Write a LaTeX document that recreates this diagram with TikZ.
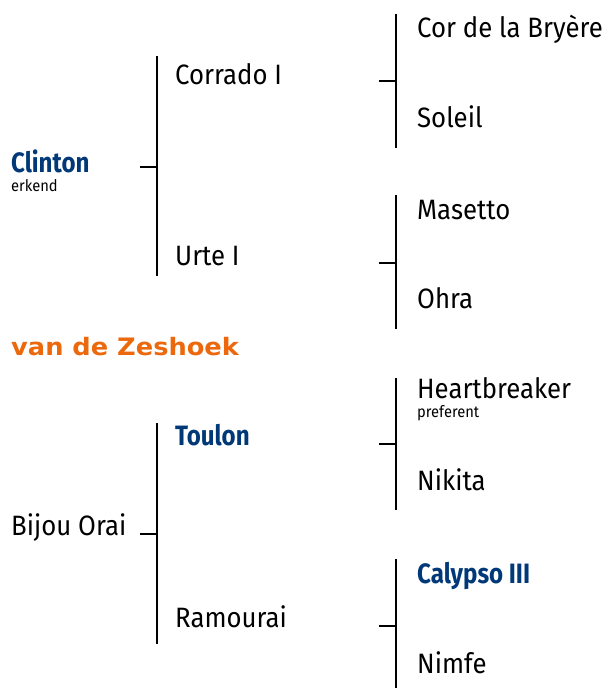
\documentclass[tikz,border=0pt]{standalone}
\usepackage{fontspec}
\setmainfont{Fira Sans}[FakeStretch=0.92]
\newfontfamily\sirefont{Fira Sans}[FakeStretch=0.86]
\newfontfamily\kennelfont{DejaVu Sans}[FakeStretch=1.07]
\usetikzlibrary{positioning}
\definecolor{pedblue}{RGB}{0,56,120}
\definecolor{pedorange}{RGB}{236,104,12}
\tikzset{
every picture/.style={line width=2.4pt, x=1pt, y=-1pt},
%%%%%%%%%%  Node styles
horse/.style={anchor=base west, inner sep=0pt, text depth=0pt,
              font=\fontsize{28}{32}\selectfont},
sire/.style={anchor=base west, inner sep=0pt, text depth=0pt, text=pedblue,
             font=\fontsize{28}{32}\selectfont\sirefont\bfseries},
remark/.style={anchor=base west, inner sep=0pt, text height=9pt,
               font=\fontsize{16}{19}\selectfont},
kennel/.style={anchor=base west, inner sep=0pt, text=pedorange,
               font=\fontsize{24}{28}\selectfont\kennelfont\bfseries},
%%%% line styles
bracket/.style={draw=black, line cap=butt},
}
% name, x of vertical line, top, middle, bottom
\newcommand{\pedbracket}[5]{
  \coordinate (#1-top) at (#2,#3);
  \coordinate (#1-mid) at (#2,#4);
  \coordinate (#1-bot) at (#2,#5);
  \coordinate (#1-tick) at (#2-17,#4);
  \draw[bracket] (#1-top) -- (#1-bot);
  \draw[bracket] (#1-tick) -- (#1-mid);
}

\begin{document}
\begin{tikzpicture}
\useasboundingbox (0,0) rectangle (611,688);
% upper pedigree
\node[sire] (clinton) at (10,172) {Clinton};
\node[remark] (erkend) at (10,191) {erkend};
\node[horse] (corrado) at (174,84) {Corrado I};
\node[horse] (urte) at (174,265) {Urte I};
\node[horse] (cor) at (416,37) {Cor de la Bryère};
\node[horse] (soleil) at (416,127) {Soleil};
\node[horse] (masetto) at (416,219) {Masetto};
\node[horse] (ohra) at (416,308) {Ohra};
\pedbracket{clintonbr}{157}{56}{167}{276}
\pedbracket{corradobr}{396}{14}{81}{148}
\pedbracket{urtebr}{396}{195}{263}{329}
% kennel name
\node[kennel] (zeshoek) at (10,355) {van de Zeshoek};
% lower pedigree
\node[horse] (bijou) at (10,535) {Bijou Orai};
\node[sire] (toulon) at (174,445) {Toulon};
\node[horse] (ramourai) at (174,627) {Ramourai};
\node[horse] (heart) at (416,398) {Heartbreaker};
\node[remark] (preferent) at (416,417) {preferent};
\node[horse] (nikita) at (416,490) {Nikita};
\node[sire] (calypso) at (416,583) {Calypso III};
\node[horse] (nimfe) at (416,673) {Nimfe};
\pedbracket{bijoubr}{157}{423}{534}{644}
\pedbracket{toulonbr}{396}{378}{444}{510}
\pedbracket{ramouraibr}{396}{559}{626}{688}
\end{tikzpicture}
\end{document}
